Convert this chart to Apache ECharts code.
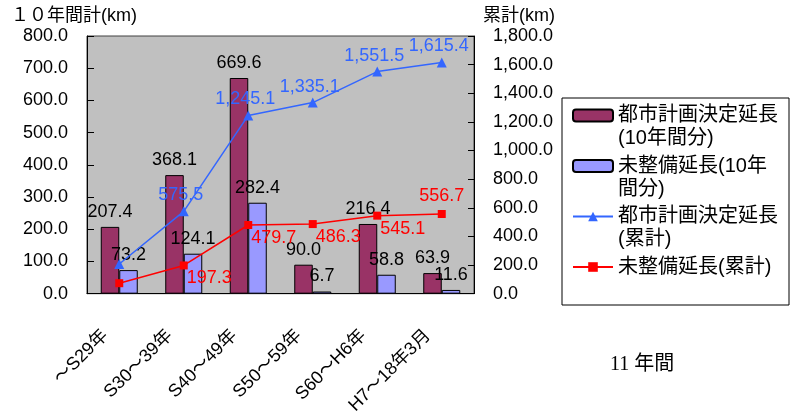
<!DOCTYPE html>
<html>
<head>
<meta charset="utf-8">
<script src="https://cdn.jsdelivr.net/npm/echarts@6/dist/echarts.min.js"></script>
<style>
  html, body { margin: 0; padding: 0; background: #fff; }
  #chart { width: 797px; height: 417px; }
</style>
</head>
<body>
<div id="chart"></div>
<script>
// Periods
var categories = ['～S29年', 'S30～39年', 'S40～49年', 'S50～59年', 'S60～H6年', 'H7～18年3月'];
// Length per period (km)
var plannedPeriod = [207.4, 368.1, 669.6, 90.0, 216.4, 63.9];
var unbuiltPeriod = [73.2, 124.1, 282.4, 6.7, 58.8, 11.6];
// Running totals (km)
var plannedTotal = [207.4, 575.5, 1245.1, 1335.1, 1551.5, 1615.4];
var unbuiltTotal = [73.2, 197.3, 479.7, 486.3, 545.1, 556.7];
// Axis tick values
var leftTicks = [0, 100, 200, 300, 400, 500, 600, 700, 800];
var rightTicks = [0, 200, 400, 600, 800, 1000, 1200, 1400, 1600, 1800];

var seriesNames = ['都市計画決定延長(10年間分)', '未整備延長(10年間分)', '都市計画決定延長(累計)', '未整備延長(累計)'];
// Legend entries: the text block is three lines tall so the icon sits level with the first text line
var legendText = {
  '都市計画決定延長(10年間分)': '\n都市計画決定延長\n(10年間分)',
  '未整備延長(10年間分)': '\n未整備延長(10年\n間分)',
  '都市計画決定延長(累計)': '\n都市計画決定延長\n(累計)',
  '未整備延長(累計)': '\n未整備延長(累計)\n'
};

var FONT = "'Liberation Sans', 'Noto Sans CJK JP', sans-serif";

function fmt1(v) {
  return Number(v).toFixed(1).replace(/\B(?=(\d{3})+(?!\d))/g, ',');
}

var blueColor = '#3366FF';
var redColor = '#FF0000';

var plannedTotalData = plannedTotal.map(function (v, i) {
  return i === 0 ? { value: v, label: { show: false } } : v;
});
var unbuiltTotalData = unbuiltTotal.map(function (v, i) {
  if (i === 0) return { value: v, label: { show: false } };
  if (i === unbuiltTotal.length - 1) return { value: v, label: { position: 'top', offset: [0, 0] } };
  return v;
});

var chart = echarts.init(document.getElementById('chart'), null, { renderer: 'canvas' });

chart.setOption({
  animation: false,
  backgroundColor: '#ffffff',
  textStyle: { fontFamily: FONT },
  grid: {
    left: 87, right: 323, top: 36, bottom: 121,
    show: true, backgroundColor: '#C0C0C0', borderColor: '#404040', borderWidth: 1
  },
  legend: {
    orient: 'vertical',
    left: 572, top: 81,
    padding: 0,
    itemGap: -18.5,
    itemWidth: 40,
    itemHeight: 12,
    textStyle: { fontSize: 20, lineHeight: 23, color: '#000', fontFamily: FONT },
    data: seriesNames,
    formatter: function (name) { return legendText[name]; }
  },
  graphic: [
    { type: 'rect', shape: { x: 562, y: 98, width: 227, height: 207 },
      style: { fill: 'none', stroke: '#000', lineWidth: 1 }, z: -1 },
    { type: 'text', left: 11, top: 7,
      style: { text: '１０年間計(km)', font: '18px ' + FONT, fill: '#000' } },
    { type: 'text', left: 483, top: 7,
      style: { text: '累計(km)', font: '18px ' + FONT, fill: '#000' } },
    { type: 'text', left: 610, top: 355,
      style: { text: '11 年間', font: "20px 'Liberation Serif', 'Noto Sans CJK JP', serif", fill: '#000' } }
  ],
  xAxis: {
    type: 'category',
    data: categories,
    boundaryGap: true,
    axisLine: { lineStyle: { color: '#000', width: 1 } },
    axisTick: { inside: true, length: 6, alignWithLabel: false, lineStyle: { color: '#000' } },
    axisLabel: {
      rotate: 45, interval: 0, margin: 25, fontSize: 18, color: '#000', fontFamily: FONT,
      padding: [0, 20, 0, 0]
    },
    splitLine: { show: false }
  },
  yAxis: [
    {
      type: 'value',
      min: leftTicks[0], max: leftTicks[leftTicks.length - 1], interval: leftTicks[1] - leftTicks[0],
      axisLine: { show: true, lineStyle: { color: '#000' } },
      axisTick: { show: true, inside: true, length: 7, lineStyle: { color: '#000' } },
      axisLabel: { margin: 19, fontSize: 18, color: '#000', fontFamily: FONT, formatter: fmt1 },
      splitLine: { show: false }
    },
    {
      type: 'value',
      min: rightTicks[0], max: rightTicks[rightTicks.length - 1], interval: rightTicks[1] - rightTicks[0],
      axisLine: { show: true, lineStyle: { color: '#000' } },
      axisTick: { show: true, inside: true, length: 6, lineStyle: { color: '#000' } },
      axisLabel: { margin: 19, fontSize: 18, color: '#000', fontFamily: FONT, formatter: fmt1 },
      splitLine: { show: false }
    }
  ],
  series: [
    {
      name: seriesNames[0], type: 'bar', yAxisIndex: 0,
      data: plannedPeriod, barWidth: 18.5, barGap: '0%',
      itemStyle: { color: '#993366', borderColor: '#000', borderWidth: 1 },
      label: { show: true, position: 'top', distance: 6, fontSize: 18, color: '#000', fontFamily: FONT, formatter: function (p) { return fmt1(p.value); } },
      z: 2
    },
    {
      name: seriesNames[1], type: 'bar', yAxisIndex: 0,
      data: unbuiltPeriod, barWidth: 18.5, barGap: '0%',
      itemStyle: { color: '#9999FF', borderColor: '#000', borderWidth: 1 },
      label: { show: true, position: 'top', distance: 6, fontSize: 18, color: '#000', fontFamily: FONT, formatter: function (p) { return fmt1(p.value); } },
      z: 2
    },
    {
      name: seriesNames[2], type: 'line', yAxisIndex: 1,
      data: plannedTotalData,
      symbol: 'triangle', symbolSize: 10,
      lineStyle: { color: blueColor, width: 1.5 },
      itemStyle: { color: blueColor },
      label: { show: true, position: 'top', distance: 2, offset: [-3, 0], fontSize: 18, color: blueColor, fontFamily: FONT, formatter: function (p) { return fmt1(p.value); } },
      z: 5
    },
    {
      name: seriesNames[3], type: 'line', yAxisIndex: 1,
      data: unbuiltTotalData,
      symbol: 'rect', symbolSize: 8,
      lineStyle: { color: redColor, width: 1.5 },
      itemStyle: { color: redColor },
      label: { show: true, position: 'right', offset: [-6, 13], fontSize: 18, color: redColor, fontFamily: FONT, formatter: function (p) { return fmt1(p.value); } },
      z: 5
    }
  ]
});
</script>
</body>
</html>
